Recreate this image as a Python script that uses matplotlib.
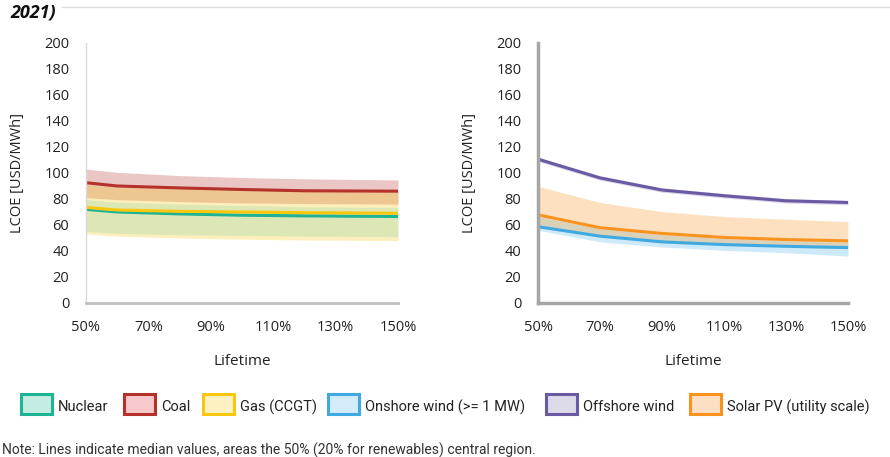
import numpy as np
import matplotlib.pyplot as plt
from matplotlib.patches import Rectangle
from matplotlib.lines import Line2D

plt.rcParams['font.family'] = ['Open Sans', 'DejaVu Sans']

# lifetime (% of default) - left panel (conventional)
x_conv = [50, 60, 80, 100, 120, 150]
coal_med = [92.5, 90, 88.5, 87.3, 86.3, 86]
coal_hi = [103, 100.5, 98, 96.5, 95.5, 94.6]
coal_lo = [81, 79.5, 78, 77, 76.5, 76]
gas_med = [73.5, 71.5, 70.5, 70, 69.5, 69]
gas_hi = [91, 89, 88, 87, 86, 85.5]
gas_lo = [53, 51.5, 50, 49, 48.5, 48]
nuc_med = [72, 70, 68.5, 67.5, 67, 66.5]
nuc_hi = [79.5, 77.5, 76, 75, 74, 73.5]
nuc_lo = [55, 53.5, 52.5, 52, 51.5, 51]

# right panel (renewables)
x_ren = [50, 70, 90, 110, 130, 150]
off_med = [110.6, 96.2, 86.9, 82.5, 78.6, 77.3]
off_hi = [112.3, 97.9, 88.6, 84.2, 80.3, 79]
off_lo = [108.9, 94.5, 85.2, 80.8, 76.9, 75.6]
pv_med = [67.8, 57.9, 53.5, 50.4, 48.8, 47.8]
pv_hi = [89.8, 77.3, 70.3, 66.5, 64.4, 62.6]
pv_lo = [58.7, 51.4, 47, 44.9, 43.6, 42.6]
on_med = [58.7, 51.4, 47, 44.9, 43.6, 42.6]
on_hi = [66.5, 57, 52.5, 49.5, 47.8, 46.8]
on_lo = [56, 47, 43.1, 40.5, 38.7, 36.1]

xticks = [50, 70, 90, 110, 130, 150]
yticks = list(range(0, 201, 20))

c_nuc = '#1db394'
c_coal = '#b5312b'
c_gas = '#f9c80e'
c_on = '#3fa9e1'
c_off = '#6a5aa3'
c_pv = '#f7931e'

fig = plt.figure(figsize=(8.9, 4.57), dpi=100)
ax1 = fig.add_axes([0.0966, 0.337, 0.3506, 0.569])
ax2 = fig.add_axes([0.6045, 0.337, 0.3483, 0.569])

# left panel
ax1.fill_between(x_conv, coal_lo, coal_hi, color='#c0504d', alpha=0.32, lw=0)
ax1.plot(x_conv, nuc_med, color=c_nuc, lw=2.2)
ax1.fill_between(x_conv, gas_lo, gas_hi, color=c_gas, alpha=0.28, lw=0)
ax1.fill_between(x_conv, nuc_lo, nuc_hi, color=c_nuc, alpha=0.14, lw=0)
ax1.plot(x_conv, gas_med, color=c_gas, lw=2.2)
ax1.plot(x_conv, coal_med, color=c_coal, lw=2.2)

# right panel
ax2.fill_between(x_ren, on_lo, on_hi, color=c_on, alpha=0.25, lw=0)
ax2.plot(x_ren, on_med, color=c_on, lw=2.2)
ax2.fill_between(x_ren, pv_lo, pv_hi, color=c_pv, alpha=0.28, lw=0)
ax2.plot(x_ren, pv_med, color=c_pv, lw=2.2)
ax2.fill_between(x_ren, off_lo, off_hi, color=c_off, alpha=0.25, lw=0)
ax2.plot(x_ren, off_med, color=c_off, lw=2.2)

for ax in (ax1, ax2):
    ax.set_xlim(50, 150)
    ax.set_ylim(0, 200)
    ax.set_xticks(xticks)
    ax.set_xticklabels([f'{v}%' for v in xticks])
    ax.set_yticks(yticks)
    ax.tick_params(length=0, labelsize=10.5, colors='#222222')
    ax.tick_params(axis='y', pad=12)
    ax.tick_params(axis='x', pad=12)
    ax.spines['top'].set_visible(False)
    ax.spines['right'].set_visible(False)
    ax.set_xlabel('Lifetime', fontsize=11, labelpad=14, color='#222222')
    ax.set_ylabel('LCOE [USD/MWh]', fontsize=10.5, labelpad=14, color='#222222')

ax1.spines['left'].set_color('#d9d9d9')
ax1.spines['left'].set_linewidth(1)
ax1.spines['bottom'].set_color('#bfbfbf')
ax1.spines['bottom'].set_linewidth(2)
ax2.spines['left'].set_color('#a6a6a6')
ax2.spines['left'].set_linewidth(2.5)
ax2.spines['bottom'].set_color('#a6a6a6')
ax2.spines['bottom'].set_linewidth(2.5)

# legend, placed by hand like the reference
labels = ['Nuclear', 'Coal', 'Gas (CCGT)', 'Onshore wind (>= 1 MW)', 'Offshore wind',
          'Solar PV (utility scale)']
edges = [c_nuc, c_coal, c_gas, c_on, c_off, c_pv]
faces = ['#c5ece3', '#f7c9cc', '#fdf1c2', '#d3ecf9', '#dcd9e8', '#fde0c4']
box_left = [21, 124, 203, 328, 546, 690]
W, H = 890, 457
for bx, lab, e, f in zip(box_left, labels, edges, faces):
    fig.add_artist(Rectangle((bx / W, 1 - 414 / H), 31 / W, 20 / H, transform=fig.transFigure,
                             facecolor=f, edgecolor=e, linewidth=2.2))
    fig.text((bx + 37) / W, 1 - 407 / H, lab, fontsize=10.5, va='center', color='#222222',
             family=['Roboto', 'DejaVu Sans'])

fig.text(0.002, 1 - 450 / H, 'Note: Lines indicate median values, areas the 50% (20% for renewables) central region.',
         fontsize=10, color='#333333', va='center', family=['Roboto', 'DejaVu Sans'])

fig.text(0.012, 0.972, '2021)', fontsize=13, fontweight='bold', fontstyle='italic',
         va='center', color='#111111')
fig.add_artist(Line2D([0.07, 1.0], [0.985, 0.985], color='#dddddd', lw=1))

fig.savefig('out.png', dpi=100)
